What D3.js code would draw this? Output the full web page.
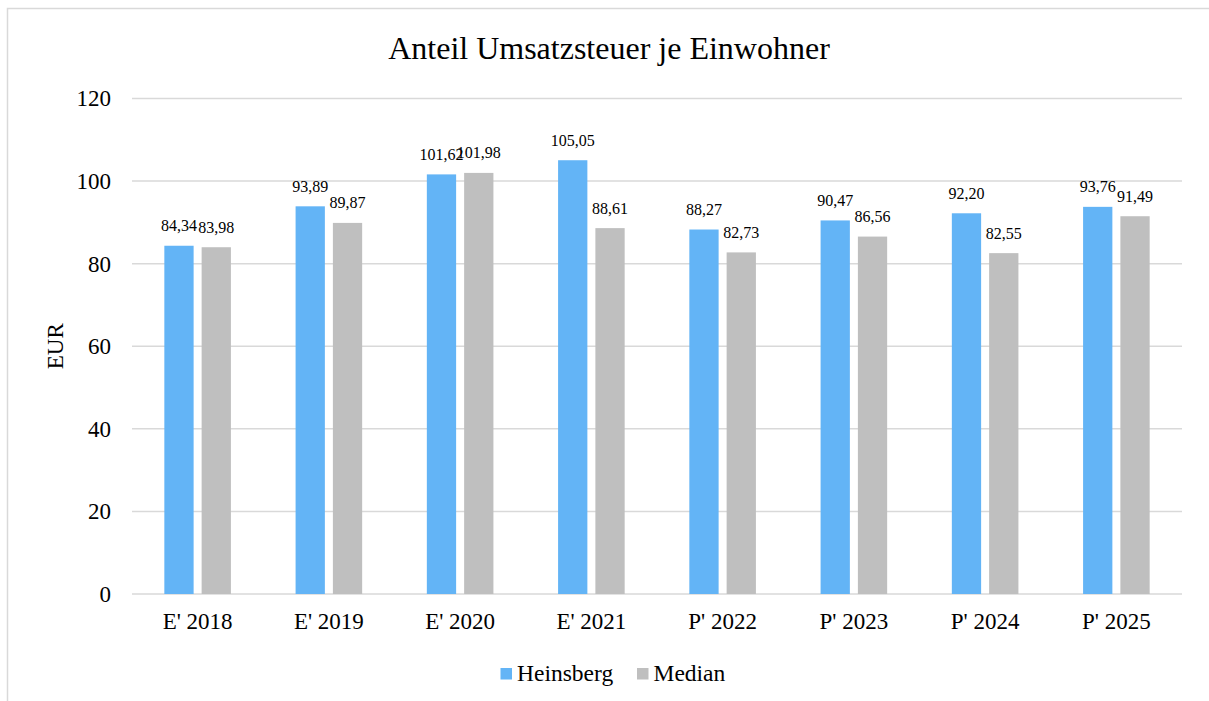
<!DOCTYPE html>
<html>
<head>
<meta charset="utf-8">
<script src="https://cdn.jsdelivr.net/npm/d3@7"></script>
<style>
  html, body { margin: 0; padding: 0; background: #fff; }
  svg text { font-family: "Liberation Serif", "DejaVu Serif", serif !important; fill: #000; }
</style>
</head>
<body>
<svg id="chart" width="1209" height="701" font-family="Liberation Serif, serif"></svg>
<script>
// Data
const categories = ["E' 2018", "E' 2019", "E' 2020", "E' 2021", "P' 2022", "P' 2023", "P' 2024", "P' 2025"];
const seriesNames = ["Heinsberg", "Median"];
const heinsberg = [84.34, 93.89, 101.62, 105.05, 88.27, 90.47, 92.20, 93.76];
const median = [83.98, 89.87, 101.98, 88.61, 82.73, 86.56, 82.55, 91.49];
const yTicks = [0, 20, 40, 60, 80, 100, 120];
const colors = ["#63b4f6", "#bfbfbf"];

const svg = d3.select("#chart");
const width = 1209, height = 701;
const serif = "'Liberation Serif', 'DejaVu Serif', serif";

// Plot area
const margin = { top: 98.5, right: 27, bottom: 107, left: 132 };
const plotRight = width - margin.right;
const plotBottom = height - margin.bottom;

// Outer chart border (only left and top visible in the frame)
svg.append("rect")
    .attr("x", 7.5).attr("y", 8.5)
    .attr("width", 1400).attr("height", 900)
    .attr("fill", "none")
    .attr("stroke", "#d9d9d9")
    .attr("stroke-width", 1.5);

// Scales
const x0 = d3.scaleBand()
    .domain(categories)
    .range([margin.left, plotRight])
    .paddingInner(0).paddingOuter(0);

const x1 = d3.scaleBand()
    .domain(seriesNames)
    .range([0, x0.bandwidth()])
    .paddingInner(0.215)
    .paddingOuter(0.867);

const y = d3.scaleLinear()
    .domain([0, 120])
    .range([plotBottom, margin.top]);

// Gridlines
svg.append("g")
    .selectAll("line")
    .data(yTicks)
    .enter().append("line")
    .attr("x1", margin.left)
    .attr("x2", plotRight)
    .attr("y1", d => y(d))
    .attr("y2", d => y(d))
    .attr("stroke", "#d9d9d9")
    .attr("stroke-width", 1.5);

// Y axis labels
const yAxis = svg.append("g")
    .attr("transform", `translate(${margin.left - 21},0)`)
    .call(d3.axisLeft(y).tickValues(yTicks).tickSize(0).tickPadding(0));
yAxis.attr("font-family", serif).attr("font-size", 23);
yAxis.select(".domain").remove();
yAxis.selectAll("text")
    .style("font-size", "23px")
    .attr("fill", "#000");

// X axis labels
const xAxis = svg.append("g")
    .attr("transform", `translate(0,${plotBottom})`)
    .call(d3.axisBottom(x0).tickSize(0).tickPadding(19));
xAxis.attr("font-family", serif).attr("font-size", 23);
xAxis.select(".domain").remove();
xAxis.selectAll("text")
    .style("font-size", "23px")
    .attr("fill", "#000");

// Bars
const rows = categories.map((c, i) => ({ cat: c, values: [heinsberg[i], median[i]] }));
const de = d3.formatLocale({ decimal: ",", thousands: ".", grouping: [3], currency: ["", " €"] });
const fmt = de.format(".2f");

const groups = svg.append("g")
    .selectAll("g")
    .data(rows)
    .enter().append("g")
    .attr("transform", d => `translate(${x0(d.cat)},0)`);

groups.selectAll("rect")
    .data(d => d.values.map((v, j) => ({ key: seriesNames[j], value: v, idx: j })))
    .enter().append("rect")
    .attr("x", d => x1(d.key))
    .attr("width", x1.bandwidth())
    .attr("y", d => y(d.value))
    .attr("height", d => y(0) - y(d.value))
    .attr("fill", d => colors[d.idx]);

// Data labels
groups.selectAll("text.val")
    .data(d => d.values.map((v, j) => ({ key: seriesNames[j], value: v })))
    .enter().append("text")
    .attr("class", "val")
    .attr("x", d => x1(d.key) + x1.bandwidth() / 2)
    .attr("y", d => y(d.value) - 14.5)
    .attr("text-anchor", "middle")
    .style("font-size", "16px")
    .text(d => fmt(d.value));

// Title
svg.append("text")
    .attr("x", 609)
    .attr("y", 59)
    .attr("text-anchor", "middle")
    .style("font-size", "32px")
    .text("Anteil Umsatzsteuer je Einwohner");

// Y axis title
svg.append("text")
    .attr("transform", `translate(63,${(margin.top + plotBottom) / 2}) rotate(-90)`)
    .attr("text-anchor", "middle")
    .style("font-size", "23px")
    .text("EUR");

// Legend
const legendItems = [
    { name: seriesNames[0], color: colors[0], x: 500.5 },
    { name: seriesNames[1], color: colors[1], x: 637 }
];
const legend = svg.append("g");
legend.selectAll("rect")
    .data(legendItems)
    .enter().append("rect")
    .attr("x", d => d.x)
    .attr("y", 668)
    .attr("width", 11.5)
    .attr("height", 11.5)
    .attr("fill", d => d.color);
legend.selectAll("text")
    .data(legendItems)
    .enter().append("text")
    .attr("x", d => d.x + 16.5)
    .attr("y", 681)
    .style("font-size", "23.5px")
    .text(d => d.name);
</script>
</body>
</html>
